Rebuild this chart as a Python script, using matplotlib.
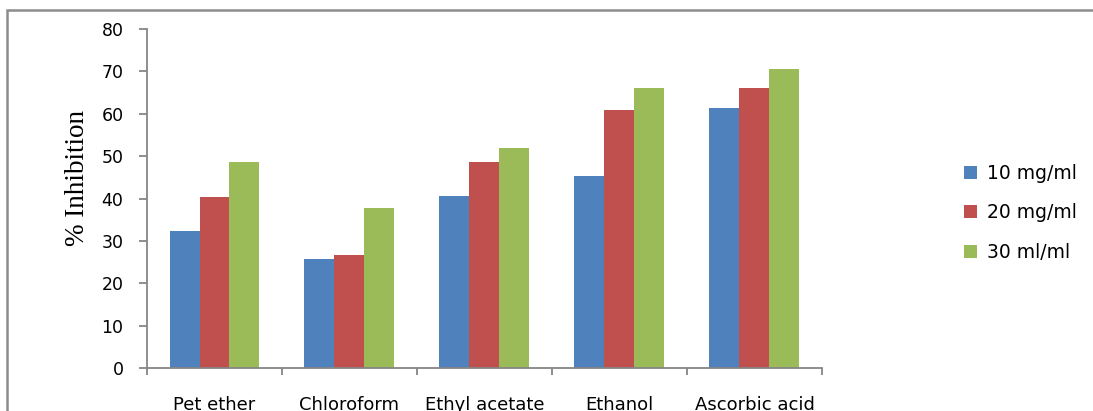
import numpy as np
import matplotlib
matplotlib.use('Agg')
import matplotlib.pyplot as plt
from matplotlib.patches import Rectangle

# extracts and the three test concentrations (% inhibition)
extracts = ['Pet ether', 'Chloroform', 'Ethyl acetate', 'Ethanol', 'Ascorbic acid']
conc_labels = ['10 mg/ml', '20 mg/ml', '30 ml/ml']
inh_10 = [32.3, 25.7, 40.6, 45.3, 61.3]
inh_20 = [40.3, 26.6, 48.6, 60.8, 66.0]
inh_30 = [48.6, 37.7, 51.9, 66.0, 70.5]
yticks = [0, 10, 20, 30, 40, 50, 60, 70, 80]

colours = ['#4F81BD', '#C0504D', '#9BBB59']
axis_grey = '#868686'

fig = plt.figure(figsize=(10.93, 4.11), dpi=100)
ax = fig.add_axes([0.1345, 0.1046, 0.6175, 0.8248])

x = np.arange(len(extracts))
w = 1. / 4.5          # excel style gap width of 150%
for k, vals in enumerate([inh_10, inh_20, inh_30]):
    ax.bar(x + (k - 1) * w, vals, width=w, color=colours[k],
           label=conc_labels[k], linewidth=0)

ax.set_xlim(-0.5, len(extracts) - 0.5)
ax.set_ylim(yticks[0], yticks[-1])
ax.set_yticks(yticks)
ax.set_xticks(x)
ax.set_xticklabels(extracts)
ax.set_xticks(np.arange(len(extracts) + 1) - 0.5, minor=True)

for s in ['top', 'right']:
    ax.spines[s].set_visible(False)
for s in ['left', 'bottom']:
    ax.spines[s].set_color(axis_grey)
    ax.spines[s].set_linewidth(1.3)

ax.tick_params(axis='y', direction='out', length=6, width=1.3, color=axis_grey,
               pad=11, labelsize=12.5)
ax.tick_params(axis='x', which='major', length=0, pad=20, labelsize=13)
ax.tick_params(axis='x', which='minor', direction='out', length=5, width=1.3,
               color=axis_grey)

fig.text(78 / 1093., 1 - 178 / 411., '% Inhibition', rotation=90,
         ha='center', va='center', fontsize=19.5, family='Liberation Serif')

leg = ax.legend(loc='center left', bbox_to_anchor=(0.882, 0.482),
                bbox_transform=fig.transFigure, frameon=False, fontsize=13.5,
                handlelength=0.7, handleheight=0.7, handletextpad=0.5,
                labelspacing=1.1, borderpad=0, borderaxespad=0)

# outer chart border (only top and left edges fall inside the image)
fig.patches.append(Rectangle((7 / 1093., -0.1), 1.2, 1.1 - 10.5 / 411.,
                             transform=fig.transFigure, fill=False,
                             edgecolor='#8c8c8c', linewidth=1.8))

plt.savefig('out.png', dpi=100)
